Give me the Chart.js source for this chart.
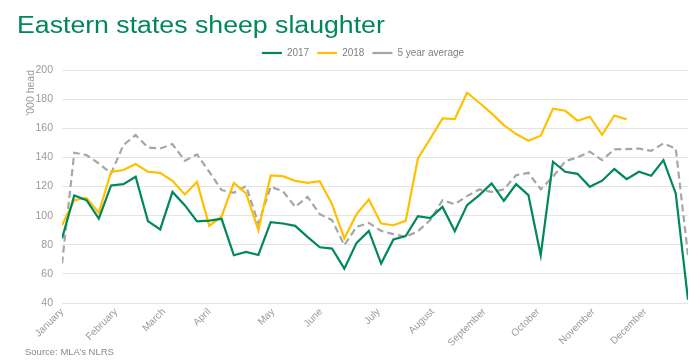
<!DOCTYPE html>
<html>
<head>
<meta charset="utf-8">
<script src="https://cdn.jsdelivr.net/npm/chart.js@4/dist/chart.umd.min.js"></script>
<style>
  html, body { margin: 0; padding: 0; background: #ffffff; }
  #wrap { position: relative; width: 700px; height: 362px; overflow: hidden; }
  #title { position: absolute; left: 17px; top: 14px; font-family: "Liberation Sans", Arial, sans-serif; font-size: 23px; line-height: 23px; color: #00875A; white-space: nowrap; transform: scaleX(1.16); transform-origin: 0 0; }
  #source { position: absolute; left: 25px; top: 346px; font-family: "Liberation Sans", Arial, sans-serif; font-size: 9.5px; line-height: 12px; color: #8a8a8a; white-space: nowrap; }
  #c { position: absolute; left: 0; top: 0; }
</style>
</head>
<body>
<div id="wrap">
  <canvas id="c" width="700" height="362"></canvas>
  <div id="title">Eastern states sheep slaughter</div>
  <div id="source">Source: MLA’s NLRS</div>
</div>
<script>
// ---- data ----
const weeks = [1,2,3,4,5,6,7,8,9,10,11,12,13,14,15,16,17,18,19,20,21,22,23,24,25,26,
               27,28,29,30,31,32,33,34,35,36,37,38,39,40,41,42,43,44,45,46,47,48,49,50,51,52];
const monthNames = ["January","February","March","April","May","June","July","August","September","October","November","December"];
const monthTickWeeks = [1, 5.4, 9.3, 13.0, 18.2, 22.1, 26.8, 31.2, 35.4, 39.8, 44.3, 48.5];
const y2017 = [84.3, 113.8, 110.6, 98.0, 120.7, 121.6, 126.7, 96.2, 90.5, 116.3, 107.2, 96.0, 96.6, 97.8,
               72.8, 75.1, 73.0, 95.5, 94.6, 93.0, 85.4, 78.3, 77.4, 63.6, 81.3, 89.5,
               67.1, 83.6, 85.9, 99.6, 98.3, 106.0, 89.3, 107.2, 114.1, 122.1, 110.2, 121.6, 114.1,
               72.8, 137.0, 130.1, 128.7, 119.8, 124.0, 132.0, 125.1, 130.1, 127.4, 138.1, 115.2, 42.3];
const y2018 = [93.4, 110.6, 112.2, 101.9, 130.1, 131.3, 135.4, 130.1, 129.4, 123.9, 114.5, 123.2, 93.0, 99.4,
               122.5, 115.2, 90.0, 127.6, 127.1, 123.9, 122.5, 123.7, 107.9, 84.3, 101.0, 111.1,
               94.6, 93.4, 96.4, 139.3, 152.8, 166.8, 166.3, 184.4, 177.5, 170.2, 162.2, 156.0, 151.4,
               154.9, 173.4, 172.0, 165.2, 167.9, 155.5, 168.8, 166.1, null, null, null, null, null];
const avg5 = [67.1, 143.2, 141.6, 135.8, 129.0, 148.4, 155.3, 146.8, 146.1, 149.1, 137.7, 142.0, 130.1, 117.5,
              115.7, 120.3, 94.6, 119.8, 116.8, 106.0, 112.9, 101.0, 96.9, 79.7, 92.3, 95.0,
              89.5, 87.3, 85.4, 89.3, 96.9, 110.6, 107.9, 113.4, 118.0, 116.3, 118.0, 127.8, 129.4,
              118.0, 126.7, 137.4, 140.0, 143.9, 138.1, 145.5, 145.7, 146.1, 144.5, 149.6, 146.1, 72.8];
const yTicks = { min: 40, max: 200, step: 20 };

// ---- chart ----
const FONT = "'Liberation Sans', Arial, sans-serif";

// nudge the legend box so its items sit where the reference has them
const legendNudge = {
  id: 'legendNudge',
  afterLayout(chart) {
    const l = chart.legend;
    if (!l) return;
    l.left += 19; l.right += 19;
    l.top -= 2; l.bottom -= 2;
  }
};

new Chart(document.getElementById('c'), {
  type: 'line',
  data: {
    labels: weeks,
    datasets: [
      { label: '2017', data: y2017, borderColor: '#00875A', backgroundColor: '#00875A', borderWidth: 2.2, pointRadius: 0, tension: 0 },
      { label: '2018', data: y2018, borderColor: '#FFC000', backgroundColor: '#FFC000', borderWidth: 2.2, pointRadius: 0, tension: 0, spanGaps: false },
      { label: '5 year average', data: avg5, borderColor: '#A6A6A6', backgroundColor: '#A6A6A6', borderWidth: 2.2, borderDash: [7, 4], pointRadius: 0, tension: 0 }
    ]
  },
  plugins: [legendNudge],
  options: {
    responsive: false,
    animation: false,
    devicePixelRatio: 1,
    layout: { padding: { top: 42, left: 0, right: 12, bottom: 0 } },
    plugins: {
      title: { display: false },
      tooltip: { enabled: false },
      legend: {
        display: true,
        position: 'top',
        align: 'center',
        labels: {
          usePointStyle: true,
          pointStyle: 'line',
          pointStyleWidth: 20,
          boxHeight: 10,
          padding: 8,
          color: '#808080',
          font: { family: FONT, size: 10 }
        }
      }
    },
    scales: {
      x: {
        type: 'linear',
        min: weeks[0],
        max: weeks[weeks.length - 1],
        grid: { display: false, drawTicks: false },
        border: { display: false },
        afterBuildTicks: (axis) => { axis.ticks = monthTickWeeks.map(v => ({ value: v })); },
        afterFit: (axis) => { axis.height = 59; },
        ticks: {
          autoSkip: false,
          minRotation: 45,
          maxRotation: 45,
          padding: 3,
          color: '#9a9a9a',
          font: { family: FONT, size: 10 },
          callback: (v, i) => monthNames[i]
        }
      },
      y: {
        min: yTicks.min,
        max: yTicks.max,
        afterFit: (axis) => { axis.width = 62; },
        grid: { color: '#e4e4e4', lineWidth: 1, drawTicks: false },
        border: { display: false },
        ticks: {
          stepSize: yTicks.step,
          padding: 9,
          color: '#9a9a9a',
          font: { family: FONT, size: 10.5 }
        },
        title: {
          display: true,
          text: "'000 head",
          align: 'end',
          color: '#9a9a9a',
          font: { family: FONT, size: 10.5 },
          padding: { top: 25, bottom: 0 }
        }
      }
    }
  }
});
</script>
</body>
</html>
